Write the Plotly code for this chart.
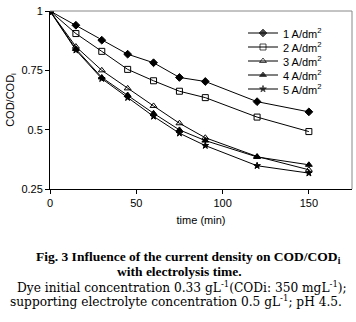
import plotly.graph_objects as go

time = [0, 15, 30, 45, 60, 75, 90, 120, 150]
s1 = [1, 0.94, 0.877, 0.818, 0.782, 0.72, 0.703, 0.618, 0.575]
s2 = [1, 0.905, 0.83, 0.754, 0.706, 0.662, 0.635, 0.553, 0.492]
s3 = [1, 0.85, 0.75, 0.674, 0.600, 0.527, 0.466, 0.387, 0.331]
s4 = [1, 0.84, 0.72, 0.646, 0.569, 0.499, 0.454, 0.385, 0.352]
s5 = [1, 0.835, 0.715, 0.635, 0.556, 0.485, 0.433, 0.348, 0.317]
names = ["1 A/dm<sup>2</sup>", "2 A/dm<sup>2</sup>", "3 A/dm<sup>2</sup>", "4 A/dm<sup>2</sup>", "5 A/dm<sup>2</sup>"]
series = [s1, s2, s3, s4, s5]
symbols = ["diamond", "square-open", "triangle-up-open", "triangle-up", "star"]
sizes = [6, 6, 6, 6, 5]

y_ticks = [0.25, 0.5, 0.75, 1]
y_ticktext = ["0.25", "0.5", "0.75", "1"]
x_ticks = [0, 50, 100, 150]

# pixel geometry of the plot area
L, R, T, B = 50, 352, 11, 189
PH = B - T
PW = R - L

def px_x(p):
    return (p - L) / PW

def px_y(p):
    return (B - p) / PH

fig = go.Figure()
for nm, s, sym, sz in zip(names, series, symbols, sizes):
    fig.add_trace(go.Scatter(
        x=time, y=s, name=nm, mode="lines+markers", showlegend=False,
        line=dict(color="black", width=1),
        marker=dict(symbol=sym, size=sz, color="black", line=dict(color="black", width=1)),
    ))

# custom compact legend (drawn on an auxiliary axis pair)
leg_rows = [33, 47, 61, 75, 89]
for i, (nm, sym, sz) in enumerate(zip(names, symbols, sizes)):
    yv = px_y(leg_rows[i])
    fig.add_trace(go.Scatter(
        x=[0, 0.5, 1], y=[yv, yv, yv], mode="lines+markers", showlegend=False,
        xaxis="x2", yaxis="y2", hoverinfo="skip",
        line=dict(color="black", width=1),
        marker=dict(symbol=sym, size=[0, sz, 0], color="black", line=dict(color="black", width=1)),
    ))
    fig.add_annotation(text=nm, xref="paper", yref="paper", x=px_x(281), y=yv,
                       xanchor="left", yanchor="middle", showarrow=False,
                       font=dict(family="Liberation Sans, Arial", size=11, color="black"))

axis_font = dict(family="Liberation Sans, Arial", size=11, color="black")
fig.update_layout(
    width=356, height=322,
    margin=dict(l=L, r=356 - R, t=T, b=322 - B),
    paper_bgcolor="white", plot_bgcolor="rgba(0,0,0,0)",
    font=axis_font,
    showlegend=False,
    xaxis=dict(range=[0, 175], tickvals=x_ticks, ticks="outside", ticklen=4, tickcolor="black",
               showline=True, linecolor="black", linewidth=1, showgrid=False, zeroline=False,
               title=dict(text="time (min)", font=dict(size=11), standoff=8)),
    yaxis=dict(range=[0.25, 1], tickvals=y_ticks, ticktext=y_ticktext, ticks="outside", ticklen=4,
               tickcolor="black", showline=True, linecolor="black", linewidth=1, showgrid=False,
               zeroline=False, title=dict(text="COD/COD<sub>i</sub>", font=dict(size=11), standoff=4)),
    xaxis2=dict(domain=[px_x(248), px_x(278)], range=[0, 1], visible=False, anchor="y2"),
    yaxis2=dict(domain=[0, 1], range=[0, 1], visible=False, anchor="x2"),
    shapes=[
        dict(type="line", xref="paper", yref="paper", x0=0, x1=1, y0=1, y1=1,
             line=dict(color="#888888", width=1)),
        dict(type="line", xref="paper", yref="paper", x0=1, x1=1, y0=0, y1=1,
             line=dict(color="#888888", width=1)),
    ],
)

bold_font = dict(family="Liberation Serif, Times New Roman, serif", size=13.5, color="black")
reg_font = dict(family="DejaVu Serif, serif", size=12.2, color="black")
captions = [
    ("<b>Fig. 3 Influence of the current density on COD/COD<sub>i</sub></b>", 188, 257, bold_font),
    ("<b>with electrolysis time.</b>", 179, 271, bold_font),
    ("Dye initial concentration 0.33 gL<sup>-1</sup>(CODi: 350 mgL<sup>-1</sup>);", 182, 287, reg_font),
    ("supporting electrolyte concentration 0.5 gL<sup>-1</sup>; pH 4.5.", 176, 301, reg_font),
]
for txt, cx, cy, f in captions:
    fig.add_annotation(text=txt, xref="paper", yref="paper",
                       x=px_x(cx), y=px_y(cy), xanchor="center", yanchor="middle",
                       showarrow=False, font=f)

fig.write_html("out.html")
